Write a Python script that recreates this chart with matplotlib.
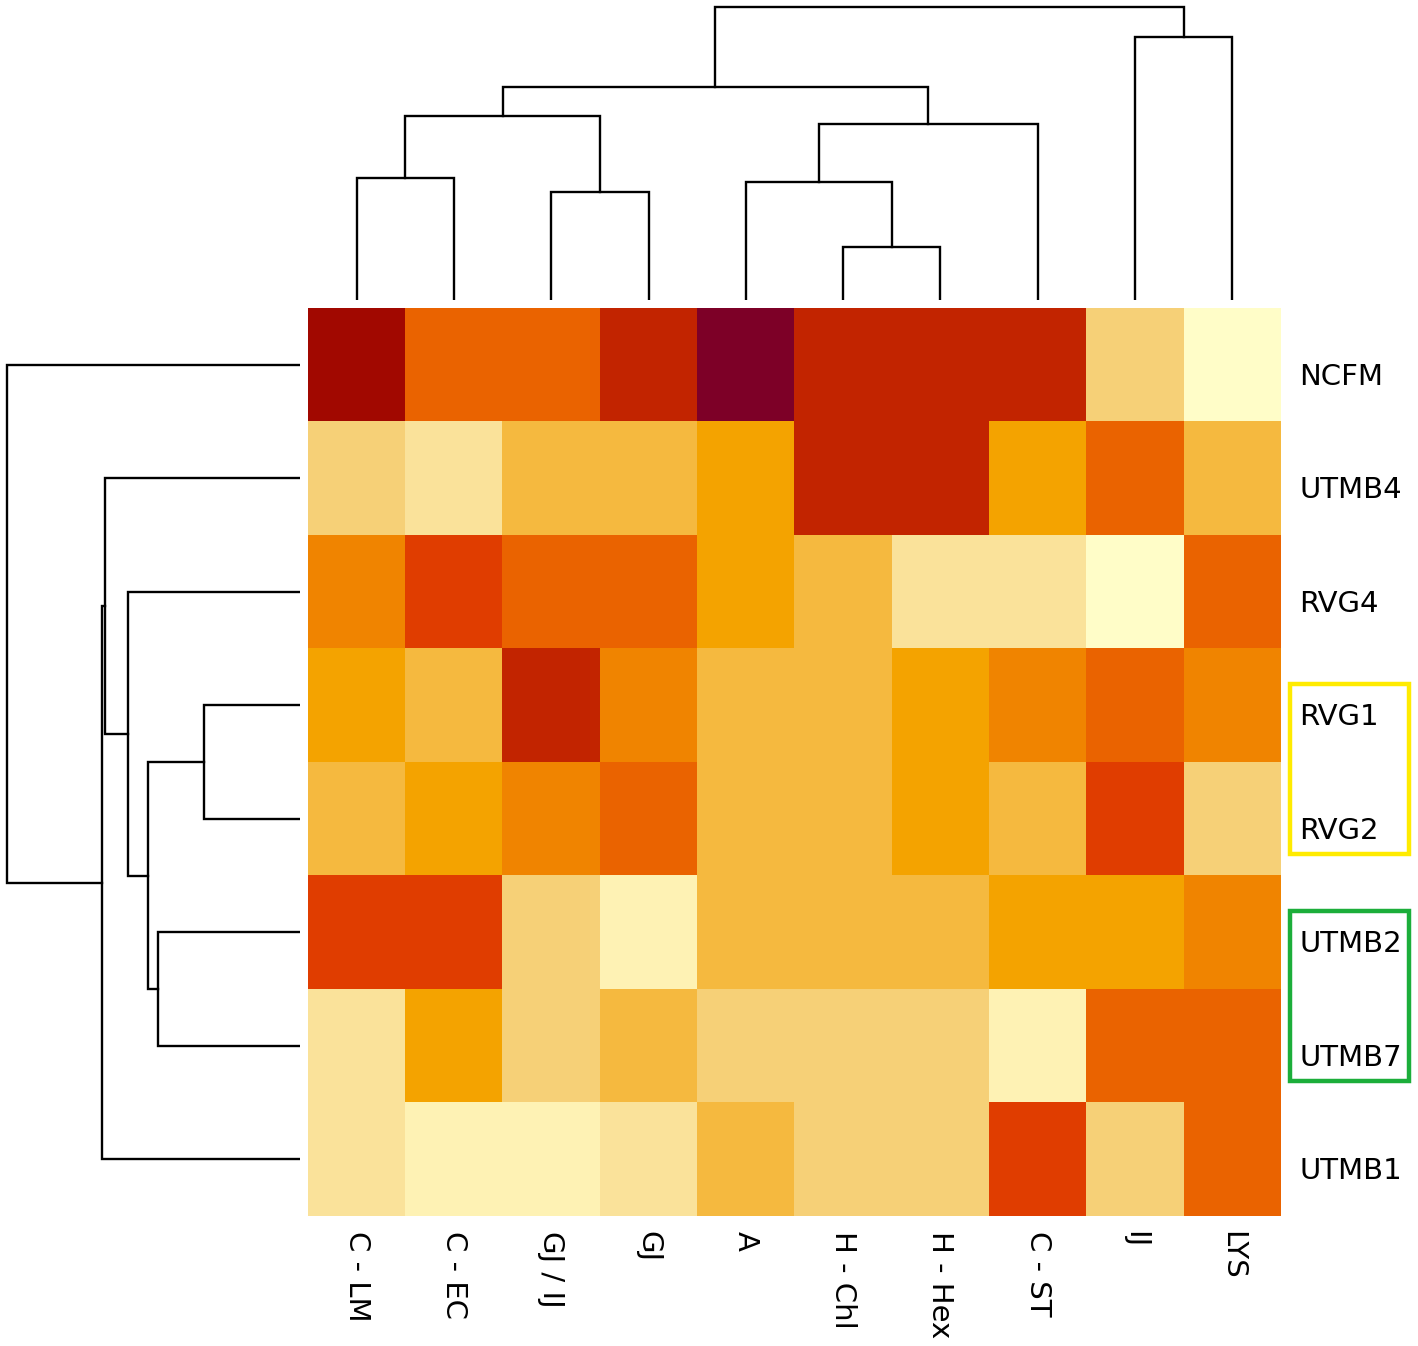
import numpy as np
import matplotlib
matplotlib.use("Agg")
import matplotlib.pyplot as plt
import matplotlib.transforms as mtransforms
from matplotlib.colors import ListedColormap
from matplotlib.patches import Rectangle

# rows / columns in the clustered (displayed) order
rows = ["NCFM", "UTMB4", "RVG4", "RVG1", "RVG2", "UTMB2", "UTMB7", "UTMB1"]
cols = ["C - LM", "C - EC", "GJ / IJ", "GJ", "A", "H - Chl", "H - Hex", "C - ST", "IJ", "LYS"]

# colour level of every cell (0 = palest, 11 = darkest)
levels = np.array([
    [10, 7, 7, 9, 11, 9, 9, 9, 3, 0],
    [3, 2, 4, 4, 5, 9, 9, 5, 7, 4],
    [6, 8, 7, 7, 5, 4, 2, 2, 0, 7],
    [5, 4, 9, 6, 4, 4, 5, 6, 7, 6],
    [4, 5, 6, 7, 4, 4, 5, 4, 8, 3],
    [8, 8, 3, 1, 4, 4, 4, 5, 5, 6],
    [2, 5, 3, 4, 3, 3, 3, 1, 7, 7],
    [2, 1, 1, 2, 4, 3, 3, 8, 3, 7],
])

palette = ["#FFFDC8", "#FEF2B4", "#FAE29A", "#F6D077", "#F5B93F", "#F4A300",
           "#F08400", "#EA6300", "#E03D00", "#C22400", "#A10800", "#7D0027"]

# dendrogram merges: (child, child, height); ints point to earlier merges
col_links = [
    ("H - Chl", "H - Hex", 53),
    ("GJ / IJ", "GJ", 108),
    ("A", 0, 118),
    ("C - LM", "C - EC", 122),
    (2, "C - ST", 176),
    (3, 1, 184),
    (5, 4, 213),
    ("IJ", "LYS", 263),
    (6, 7, 293),
]
row_links = [
    ("RVG1", "RVG2", 96),
    ("UTMB2", "UTMB7", 142),
    (0, 1, 152),
    ("RVG4", 2, 172),
    ("UTMB4", 3, 195),
    (4, "UTMB1", 198),
    ("NCFM", 5, 293),
]

# boxes around row labels
groups = [("RVG1", "RVG2", "#FFEB00"), ("UTMB2", "UTMB7", "#1CAE3A")]


def dendro_segments(links, leaves):
    pos = {name: i + 0.5 for i, name in enumerate(leaves)}
    hgt = {name: 0.0 for name in leaves}
    segs = []
    for k, (a, b, h) in enumerate(links):
        pa, pb = pos[a], pos[b]
        segs.append(([pa, pa, pb, pb], [hgt[a], h, h, hgt[b]]))
        pos[k] = (pa + pb) / 2
        hgt[k] = h
    return segs


W, H = 1418, 1346
fig = plt.figure(figsize=(W / 100, H / 100), dpi=100)

hx0, hx1, hy0, hy1 = 308, 1281, 308, 1216
ax = fig.add_axes([hx0 / W, 1 - hy1 / H, (hx1 - hx0) / W, (hy1 - hy0) / H])
ax.imshow(levels, cmap=ListedColormap(palette), vmin=-0.5, vmax=len(palette) - 0.5,
          aspect="auto", interpolation="nearest", extent=(0, len(cols), len(rows), 0))
ax.set_xticks(np.arange(len(cols)) + 0.5)
ax.set_xticklabels(cols, rotation=270, fontsize=21)
ax.set_yticks(np.arange(len(rows)) + 0.5)
ax.set_yticklabels(rows, fontsize=21)
ax.yaxis.tick_right()
ax.tick_params(axis="x", length=0, pad=11)
ax.tick_params(axis="y", length=0, pad=13)
shift = mtransforms.ScaledTranslation(0, -0.09, fig.dpi_scale_trans)
for lab in ax.get_yticklabels():
    lab.set_transform(lab.get_transform() + shift)
for s in ax.spines.values():
    s.set_visible(False)

for r1, r2, color in groups:
    i1, i2 = rows.index(r1), rows.index(r2)
    ax.add_patch(Rectangle((10.09, i1 + 0.31), 1.23, (i2 - i1) + 0.5, fill=False,
                           edgecolor=color, linewidth=3.2, clip_on=False))

# top dendrogram
axt = fig.add_axes([hx0 / W, 1 - 300 / H, (hx1 - hx0) / W, 295 / H])
for xs, ys in dendro_segments(col_links, cols):
    axt.plot(xs, ys, color="black", lw=1.7, solid_joinstyle="miter")
axt.set_xlim(0, len(cols))
axt.set_ylim(0, 295)
axt.axis("off")

# left dendrogram
axl = fig.add_axes([5 / W, 1 - hy1 / H, 295 / W, (hy1 - hy0) / H])
for ys, xs in dendro_segments(row_links, rows):
    axl.plot(xs, ys, color="black", lw=1.7, solid_joinstyle="miter")
axl.set_xlim(295, 0)
axl.set_ylim(len(rows), 0)
axl.axis("off")

fig.savefig("out.png", dpi=100)
